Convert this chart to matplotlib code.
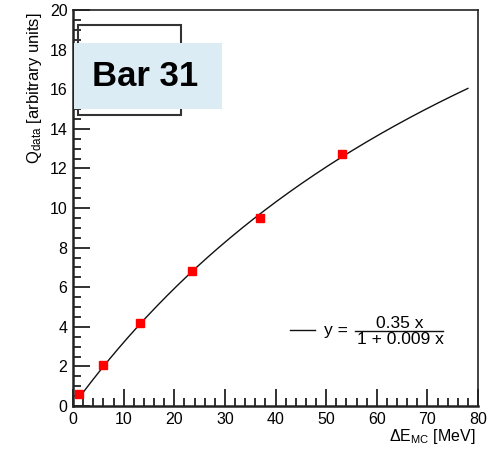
import numpy as np
import matplotlib
matplotlib.use("Agg")
import matplotlib.pyplot as plt
from matplotlib.lines import Line2D
from matplotlib.patches import Rectangle
from matplotlib.ticker import MultipleLocator

plt.rcParams["font.family"] = "Liberation Sans"
plt.rcParams["mathtext.fontset"] = "custom"
plt.rcParams["mathtext.rm"] = "Liberation Sans"
plt.rcParams["mathtext.it"] = "Liberation Sans"

# Measured points for bar 31
e_mc = [1.2, 6.0, 13.3, 23.5, 36.9, 53.2]
q_data = [0.62, 2.05, 4.2, 6.8, 9.5, 12.75]

# Saturation fit y = a x / (1 + b x)
fit_a = 0.35
fit_b = 0.009
fit_range = (1.8, 78.0)

W, H = 492, 449


def px(x, y):
    # pixel position (from top-left) -> figure fraction
    return x / W, 1 - y / H


fig = plt.figure(figsize=(W / 100, H / 100), dpi=100)
ax = fig.add_axes([73 / W, 1 - 406 / H, 405 / W, 396 / H])

xf = np.linspace(fit_range[0], fit_range[1], 300)
ax.plot(xf, fit_a * xf / (1 + fit_b * xf), color="#111111", lw=1.0, zorder=2)
ax.plot(e_mc, q_data, ls="none", marker="s", ms=6.2, color="red", mec="red", zorder=3)

ax.set_xlim(0, 80)
ax.set_ylim(0, 20)
ax.xaxis.set_major_locator(MultipleLocator(10))
ax.xaxis.set_minor_locator(MultipleLocator(2))
ax.yaxis.set_major_locator(MultipleLocator(2))
ax.yaxis.set_minor_locator(MultipleLocator(0.5))
ax.tick_params(which="both", direction="in", top=False, right=False,
               labelsize=11.5, color="#222222", width=1.3, pad=4)
ax.tick_params(which="major", length=12)
ax.tick_params(which="minor", length=6)
for side in ["left", "bottom"]:
    ax.spines[side].set_linewidth(1.8)
for side in ["top", "right"]:
    ax.spines[side].set_linewidth(1.2)
for s in ax.spines.values():
    s.set_color("#222222")

# axis titles, right/top aligned like ROOT
fig.text(*px(35, 12), r"Q$_{\mathrm{data}}$ [arbitrary units]",
         rotation=90, ha="center", va="top", fontsize=12)
fig.text(*px(476, 437), r"$\Delta$E$_{\mathrm{MC}}$ [MeV]",
         ha="right", va="center", fontsize=11.5)

# fit legend: line sample + y = 0.35 x / (1 + 0.009 x)
fig.lines.append(Line2D([290 / W, 315 / W], [1 - 330 / H] * 2,
                        transform=fig.transFigure, color="#111111", lw=1.0))
fig.text(*px(324, 330), "y =", ha="left", va="center", fontsize=12.5)
fig.lines.append(Line2D([355 / W, 443 / W], [1 - 331 / H] * 2,
                        transform=fig.transFigure, color="#111111", lw=1.0))
fig.text(*px(400, 323), "0.35 x", ha="center", va="center", fontsize=12.5)
fig.text(*px(400, 339), "1 + 0.009 x", ha="center", va="center", fontsize=12.5)

# empty pave frame and title box
fig.patches.append(Rectangle(px(78, 115), 103 / W, 90 / H,
                             transform=fig.transFigure, fill=False,
                             ec="#333333", lw=1.5, zorder=5))
fig.patches.append(Rectangle(px(74, 109), 148 / W, 66 / H,
                             transform=fig.transFigure, fc="#dcecf5",
                             ec="none", zorder=6))
fig.text(*px(92, 77), "Bar 31", fontsize=25, fontweight="bold",
         ha="left", va="center", zorder=7)

fig.savefig("out.png", dpi=100)
